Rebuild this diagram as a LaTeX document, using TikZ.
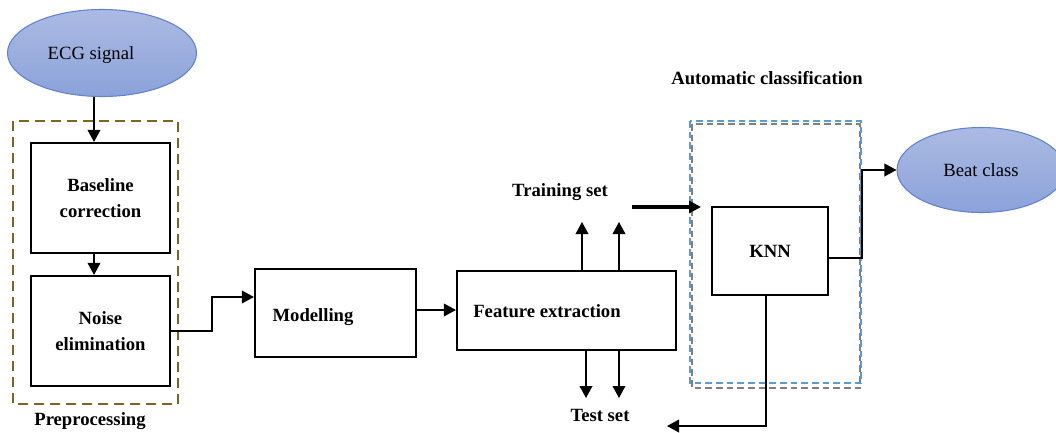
\documentclass[tikz,border=0pt]{standalone}
\usepackage{fontspec}
\setmainfont{Liberation Serif}
\usetikzlibrary{arrows.meta,shapes.geometric}
\definecolor{ellfill1}{HTML}{ABBAE3}
\definecolor{ellfill2}{HTML}{8BA2D9}
\definecolor{elldraw}{HTML}{5F82D2}
\definecolor{preclr}{HTML}{806419}
\definecolor{autoblue}{HTML}{5B9BD5}
\definecolor{autogray}{HTML}{808080}
\tikzset{
  box/.style={draw=black, line width=1.6pt, rectangle, inner sep=0pt},
  lbl/.style={font=\fontsize{14}{19.5}\selectfont\bfseries, align=center, inner sep=0pt},
  oval/.style={ellipse, draw=elldraw, line width=0.8pt, top color=ellfill1, bottom color=ellfill2, inner sep=0pt},
  ovaltext/.style={font=\fontsize{14}{16}\selectfont, inner sep=0pt},
  conn/.style={draw=black, line width=1.1pt, -{Triangle[length=9pt,width=9.5pt]}},
  thick conn/.style={draw=black, line width=2.4pt, -{Triangle[length=9pt,width=9pt]}},
}
\begin{document}
\begin{tikzpicture}[x=0.75pt,y=-0.75pt]
\useasboundingbox (0,0) rectangle (1056,432);

% input and output ovals
\node[oval, minimum width=189*0.75pt, minimum height=87*0.75pt] (ecg) at (102,53) {};
\node[ovaltext] at (91,55) {ECG signal};
\node[oval, minimum width=168*0.75pt, minimum height=85*0.75pt] (beat) at (981,170) {};
\node[ovaltext] at (beat.center) {Beat class};

% preprocessing group
\draw[preclr, line width=1.6pt, dash pattern=on 7.5pt off 4.5pt] (13,121) rectangle (178,404);
\node[lbl] (prelbl) at (90,421) {Preprocessing};
\node[box, minimum width=139*0.75pt, minimum height=110*0.75pt] (base) at (100.5,198) {};
\node[lbl] at (base.center) {Baseline\\correction};
\node[box, minimum width=139*0.75pt, minimum height=110*0.75pt] (noise) at (100.5,331) {};
\node[lbl] at (noise.center) {Noise\\elimination};

% main chain
\node[box, minimum width=161*0.75pt, minimum height=88*0.75pt] (model) at (335.5,313) {};
\node[lbl] at (313,317) {Modelling};
\node[box, minimum width=219*0.75pt, minimum height=79*0.75pt] (feat) at (566.5,310.5) {};
\node[lbl] at (547,311) {Feature extraction};

% classification group
\draw[autogray, line width=1.3pt, dash pattern=on 5pt off 3pt] (692,124) rectangle (860,388);
\draw[autoblue, line width=1.3pt, dash pattern=on 5pt off 3pt] (690,121) rectangle (861,383);
\node[lbl] (autolbl) at (767,78) {Automatic classification};
\node[box, minimum width=116*0.75pt, minimum height=88*0.75pt] (knn) at (770,251) {};
\node[lbl] at (knn.center) {KNN};

% labels of the data split
\node[lbl] (train) at (560,192) {Training set};
\node[lbl] (test) at (600,415) {Test set};

% free ends
\coordinate (up1) at (582,222);
\coordinate (up2) at (619,222);
\coordinate (dn1) at (586,398);
\coordinate (dn2) at (619,398);
\coordinate (tsA) at (632,207);
\coordinate (tsB) at (701,207);
\coordinate (back) at (667,426);

% connectors
\draw[conn] (ecg.south -| 94,0) -- (base.north -| 94,0);
\draw[conn] (base.south -| 94,0) -- (noise.north -| 94,0);
\draw[conn] (noise.east |- 0,331) -- (212,331) -- (212,297) -- (model.west |- 0,297);
\draw[conn] (model.east |- 0,310) -- (feat.west |- 0,310);
\draw[conn] (feat.north -| up1) -- (up1);
\draw[conn] (feat.north -| up2) -- (up2);
\draw[conn] (feat.south -| dn1) -- (dn1);
\draw[conn] (feat.south -| dn2) -- (dn2);
\draw[thick conn] (tsA) -- (tsB);
\draw[conn] (knn.east |- 0,258) -- (862,258) -- (862,170) -- (beat.west);
\draw[conn] (knn.south -| 766,0) -- (766,426) -- (back);
\end{tikzpicture}
\end{document}
